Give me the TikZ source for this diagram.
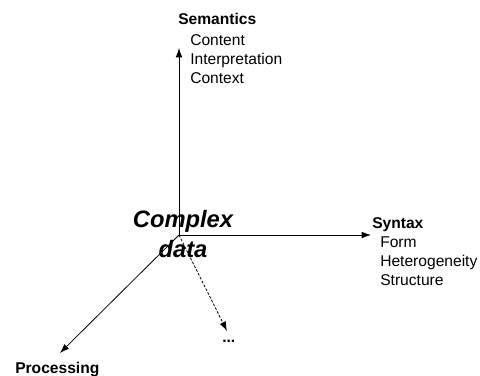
\documentclass[tikz,border=0pt]{standalone}
\usepackage{fontspec}
\setmainfont{Liberation Sans}
\usetikzlibrary{arrows.meta}
\begin{document}
\begin{tikzpicture}[x=0.75pt,y=-0.75pt,
  axis/.style={line width=0.6pt,-{Latex[length=7pt,width=5pt]}},
  dashaxis/.style={axis,dash pattern=on 2pt off 1.2pt},
  head/.style={inner sep=0pt,anchor=base west,font=\fontsize{11.7pt}{14pt}\selectfont\bfseries},
  item/.style={inner sep=0pt,anchor=base west,font=\fontsize{11.7pt}{14pt}\selectfont},
  big/.style={inner sep=0pt,anchor=base,font=\fontsize{17.8pt}{20pt}\selectfont\bfseries\itshape}]
\useasboundingbox (0,0) rectangle (480,376);
\coordinate (O) at (179,235);
\coordinate (up) at (179,48);
\coordinate (right) at (371,235);
\coordinate (proc) at (60,353);
\coordinate (dots) at (227,331);
\draw[axis] (O) -- (up);
\draw[axis] (O) -- (right);
\draw[axis] (O) -- (proc);
\draw[dashaxis] (O) -- (dots);
\node[big] (complex) at (183,227) {Complex};
\node[big] (data) at (183,257) {data};
\node[head] (sem) at (178,24) {Semantics};
\node[item] (c1) at (190,45) {Content};
\node[item] (c2) at (190,64) {Interpretation};
\node[item] (c3) at (190,83) {Context};
\node[head] (syn) at (372,228) {Syntax};
\node[item] (s1) at (380,247) {Form};
\node[item] (s2) at (380,266) {Heterogeneity};
\node[item] (s3) at (380,285) {Structure};
\node[head] (pr) at (15,373.5) {Processing};
\node[head] (dd) at (222,342) {...};
\end{tikzpicture}
\end{document}
